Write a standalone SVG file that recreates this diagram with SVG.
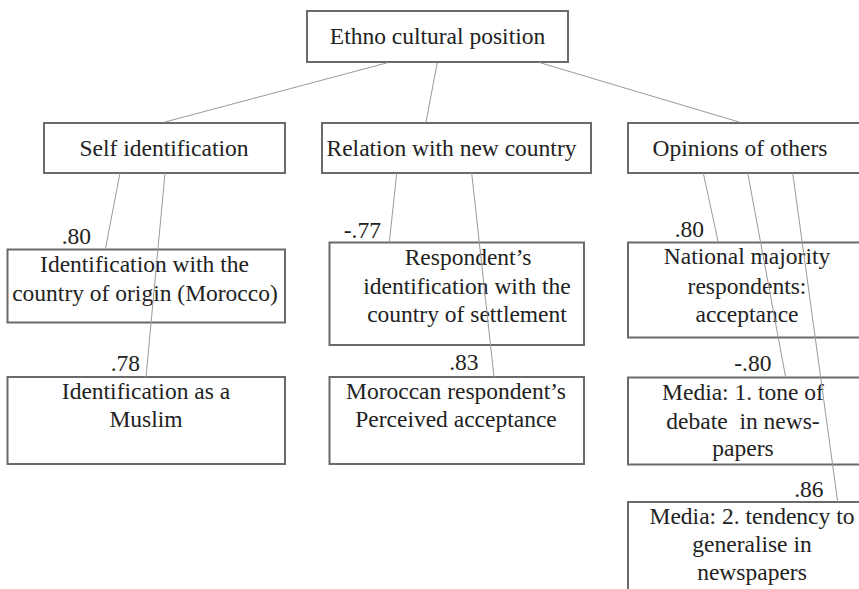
<svg xmlns="http://www.w3.org/2000/svg" width="859" height="589" viewBox="0 0 859 589">
  <style>
    .box { fill: #ffffff; stroke: #6a6a6a; stroke-width: 2; }
    .link { stroke: #9a9a9a; stroke-width: 1; fill: none; }
    text { font-size: 23.5px; fill: #222222; }
    .c { text-anchor: middle; }
    .coef { text-anchor: end; }
  </style>
  <rect width="859" height="589" fill="#ffffff"/>

  <g font-family="'Liberation Serif', 'DejaVu Serif', serif">
  <!-- Boxes -->
  <g id="root">
    <rect class="box" x="307" y="11" width="261" height="51"/>
    <text class="c" x="437.5" y="43.5">Ethno cultural position</text>
  </g>
  <g id="self-identification">
    <rect class="box" x="44" y="123" width="241" height="50"/>
    <text class="c" x="164" y="155.5">Self identification</text>
  </g>
  <g id="relation-new-country">
    <rect class="box" x="322" y="123" width="269" height="50"/>
    <text class="c" x="451.5" y="155.5">Relation with new country</text>
  </g>
  <g id="opinions-of-others">
    <rect class="box" x="628" y="123" width="250" height="50"/>
    <text class="c" x="740" y="155.5">Opinions of others</text>
  </g>

  <g id="id-country-origin">
    <rect class="box" x="7.5" y="249.5" width="277.5" height="73"/>
    <text class="c" x="144.5" y="272">Identification with the</text>
    <text class="c" x="145" y="301">country of origin (Morocco)</text>
  </g>
  <g id="id-muslim">
    <rect class="box" x="7.5" y="377" width="277.5" height="87"/>
    <text class="c" x="146" y="399">Identification as a</text>
    <text class="c" x="146" y="427">Muslim</text>
  </g>

  <g id="id-country-settlement">
    <rect class="box" x="329.5" y="242.5" width="254.5" height="102.5"/>
    <text class="c" x="468" y="265">Respondent’s</text>
    <text class="c" x="467" y="294">identification with the</text>
    <text class="c" x="467" y="322">country of settlement</text>
  </g>
  <g id="perceived-acceptance">
    <rect class="box" x="329.5" y="377" width="254.5" height="87"/>
    <text class="c" x="456" y="398.5">Moroccan respondent’s</text>
    <text class="c" x="456" y="427">Perceived acceptance</text>
  </g>

  <g id="majority-acceptance">
    <rect class="box" x="628" y="242.5" width="250" height="95"/>
    <text class="c" x="747" y="264">National majority</text>
    <text class="c" x="747" y="293.5">respondents:</text>
    <text class="c" x="747" y="322">acceptance</text>
  </g>
  <g id="media-tone">
    <rect class="box" x="628" y="377.5" width="250" height="87"/>
    <text class="c" x="743" y="400">Media: 1. tone of</text>
    <text class="c" x="743" y="428.5" xml:space="preserve">debate  in news-</text>
    <text class="c" x="743" y="456">papers</text>
  </g>
  <g id="media-generalise">
    <rect class="box" x="628" y="502" width="250" height="100"/>
    <text class="c" x="752" y="523.5">Media: 2. tendency to</text>
    <text class="c" x="752" y="552">generalise in</text>
    <text class="c" x="752" y="579.5">newspapers</text>
  </g>

  <!-- Connectors and loadings -->
  <g id="connectors">
    <line class="link" x1="388.3" y1="62.5" x2="165" y2="122"/>
    <line class="link" x1="437.3" y1="62.5" x2="426" y2="122"/>
    <line class="link" x1="539.3" y1="62.5" x2="739" y2="122"/>

    <line class="link" x1="120" y1="173" x2="105.3" y2="249.5"/>
    <line class="link" x1="165" y1="173" x2="146" y2="377"/>

    <line class="link" x1="396.7" y1="173" x2="389.3" y2="242.5"/>
    <line class="link" x1="471.7" y1="173" x2="494" y2="377"/>

    <line class="link" x1="703.3" y1="173" x2="718.3" y2="242.5"/>
    <line class="link" x1="747.7" y1="173" x2="785.7" y2="377.5"/>
    <line class="link" x1="792.7" y1="173" x2="837.7" y2="502"/>
  </g>
  <g id="loadings">
    <text class="coef" x="91" y="244">.80</text>
    <text class="coef" x="140" y="370.5">.78</text>
    <text class="coef" x="381" y="237.5">-.77</text>
    <text class="coef" x="478.5" y="370">.83</text>
    <text class="coef" x="704" y="236.5">.80</text>
    <text class="coef" x="771.5" y="370.5">-.80</text>
    <text class="coef" x="823.5" y="496.5">.86</text>
  </g>
  </g>
</svg>
